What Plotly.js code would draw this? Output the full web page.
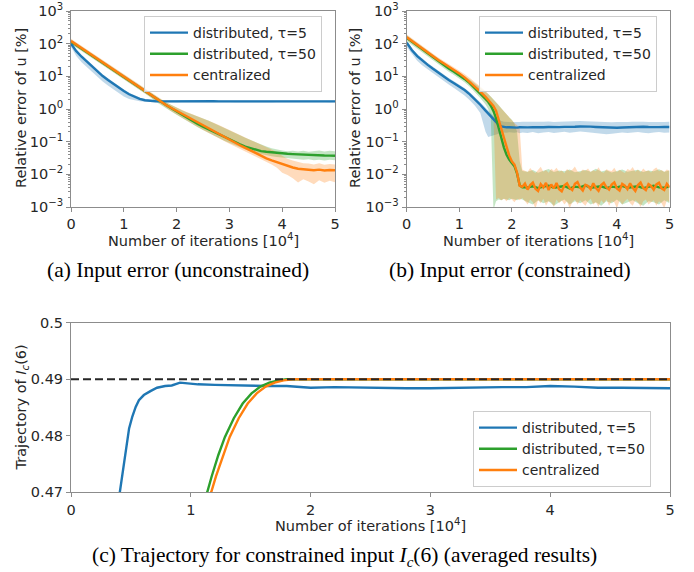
<!DOCTYPE html>
<html><head><meta charset="utf-8">
<script src="https://cdn.plot.ly/plotly-3.0.1.min.js"></script>
<style>html,body{margin:0;padding:0;background:#fff}#chart{width:694px;height:572px}</style>
</head><body><div id="chart"></div>
<script>
// ---------- Panel (a): input error, unconstrained (iterations in 10^4) ----------
const xA = [0,0.1,0.2,0.3,0.4,0.5,0.6,0.7,0.8,0.9,1,1.1,1.2,1.3,1.4,1.5,1.6,1.7,1.8,1.9,2,2.1,2.2,2.3,2.4,2.5,2.6,2.7,2.8,2.9,3,3.1,3.2,3.3,3.4,3.5,3.6,3.7,3.8,3.9,4,4.1,4.2,4.3,4.4,4.5,4.6,4.7,4.8,4.9,5];
const aBlue = [100,58.9,39.8,28.2,20.4,13.8,10.2,7.76,5.89,4.57,3.55,2.82,2.34,2.04,1.86,1.76,1.72,
  1.71,1.72,1.71,1.70,1.71,1.72,1.71,1.71,1.70,1.71,1.72,1.71,1.71,1.72,1.71,1.70,1.71,1.71,1.72,1.71,
  1.71,1.70,1.71,1.72,1.71,1.71,1.72,1.71,1.70,1.71,1.71,1.72,1.71,1.71];
const aBlueLo = [79.4,41.7,26.9,19.1,13.8,9.33,6.92,5.25,3.98,3.09,2.40,2.04,1.86,1.74,1.66,1.64,1.60,
  1.59,1.61,1.60,1.58,1.60,1.61,1.59,1.60,1.58,1.60,1.61,1.59,1.60,1.61,1.59,1.58,1.60,1.60,1.61,1.59,
  1.60,1.58,1.60,1.61,1.59,1.60,1.61,1.59,1.58,1.60,1.60,1.61,1.59,1.60];
const aBlueHi = [120,66.1,44.7,31.6,22.9,15.5,11.5,8.71,6.61,5.13,3.98,3.16,2.63,2.24,2.04,1.91,1.84,
  1.82,1.83,1.82,1.81,1.82,1.84,1.82,1.82,1.81,1.82,1.83,1.82,1.82,1.83,1.82,1.81,1.82,1.82,1.83,1.82,
  1.82,1.81,1.82,1.83,1.82,1.82,1.84,1.82,1.81,1.82,1.82,1.83,1.82,1.82];
const aGreen = [115,89.1,69.2,55.0,42.7,33.1,25.7,20.0,15.5,12.3,9.55,
  7.41,5.75,4.47,3.47,2.75,2.14,1.66,1.32,1.05,0.832,
  0.661,0.525,0.427,0.347,0.288,0.240,0.200,0.166,0.138,0.117,
  0.0977,0.0832,0.0708,0.0631,0.0562,0.0513,0.0490,0.0468,0.0447,0.0437,
  0.0427,0.0417,0.0407,0.0398,0.0392,0.0385,0.0381,0.0376,0.0374,0.0370];
const aGreenLo = [97.7,75.9,58.9,46.8,36.3,28.2,21.9,17.0,13.2,10.5,8.13,
  6.31,4.90,3.80,2.95,2.34,1.70,1.32,1.05,0.832,0.661,
  0.525,0.417,0.339,0.275,0.229,0.186,0.155,0.129,0.107,0.0912,
  0.0776,0.0661,0.0562,0.0501,0.0447,0.0407,0.0380,0.0355,0.0339,0.0324,
  0.0316,0.0302,0.0295,0.0282,0.0288,0.0269,0.0282,0.0263,0.0282,0.0269];
const aGreenHi = [135,105,81.3,64.6,50.1,38.9,30.2,23.4,18.2,14.5,11.2,
  8.71,6.76,5.25,4.07,3.24,2.51,2.00,1.62,1.32,1.10,
  0.912,0.776,0.676,0.603,0.525,0.447,0.372,0.316,0.269,0.229,
  0.191,0.158,0.132,0.112,0.0955,0.0813,0.0708,0.0631,0.0575,0.0537,
  0.0513,0.0525,0.0501,0.0525,0.0490,0.0513,0.0537,0.0501,0.0525,0.0513];
const aOrange = [120,93.3,72.4,56.2,43.7,33.9,26.3,20.4,16.2,12.6,9.77,
  7.59,5.89,4.57,3.55,2.75,2.14,1.66,1.32,1.07,0.871,
  0.708,0.575,0.479,0.389,0.324,0.263,0.214,0.174,0.141,0.117,
  0.0955,0.0776,0.0646,0.0537,0.0437,0.0363,0.0309,0.0269,0.0234,0.0209,
  0.0182,0.0162,0.0148,0.0141,0.0138,0.0134,0.0139,0.0131,0.0136,0.0133];
const aOrangeLo = [100,79.4,61.7,47.9,37.2,28.8,22.4,17.4,13.8,10.7,8.32,
  6.46,5.01,3.89,3.02,2.34,1.78,1.38,1.07,0.851,0.676,
  0.537,0.427,0.347,0.282,0.229,0.186,0.151,0.126,0.105,0.0871,
  0.0724,0.0603,0.0501,0.0427,0.0363,0.0302,0.0245,0.0200,0.0158,0.0112,
  0.00955,0.00759,0.00562,0.00708,0.00603,0.00501,0.00661,0.00550,0.00631,0.00575];
const aOrangeHi = [141,110,85.1,66.1,51.3,39.8,30.9,24.0,19.1,14.8,11.5,
  8.91,6.92,5.37,4.17,3.24,2.51,2.00,1.62,1.32,1.10,
  0.933,0.794,0.692,0.603,0.525,0.447,0.380,0.324,0.269,0.229,
  0.191,0.158,0.132,0.112,0.0955,0.0813,0.0692,0.0589,0.0479,0.0372,
  0.0302,0.0263,0.0234,0.0219,0.0214,0.0200,0.0219,0.0195,0.0209,0.0200];

// ---------- Panel (b): input error, constrained ----------
const xB = [0,0.1,0.2,0.3,0.4,0.5,0.6,0.7,0.8,0.9,1,1.1,1.2,1.3,1.4,1.5,
  1.55,1.6,1.65,1.7,1.75,1.8,1.85,1.9,1.95,2,2.05,2.1,2.15,2.2,
  2.3,2.4,2.5,2.6,2.7,2.8,2.9,3,3.1,3.2,3.3,3.4,3.5,3.6,3.7,3.8,3.9,4,4.1,4.2,4.3,4.4,4.5,4.6,4.7,4.8,4.9,5];
const bBlue = [107,63.1,41.7,29.5,22.4,17.0,12.9,10.0,7.76,6.17,4.90,3.80,2.82,2.00,1.35,0.891,
  0.724,0.575,0.468,0.389,0.331,0.295,0.282,0.275,0.275,0.269,0.275,0.270,0.276,0.271,
  0.274,0.279,0.272,0.276,0.281,0.275,0.278,0.283,0.279,0.285,
  0.290,0.294,0.288,0.282,0.276,0.270,0.262,0.266,0.272,0.278,
  0.275,0.280,0.286,0.281,0.276,0.279,0.284,0.280];
const bBlueLo = [79.4,46.8,30.2,21.4,16.2,12.3,9.33,7.24,5.62,4.37,3.39,2.57,1.86,1.26,0.759,0.200,
  0.138,0.148,0.158,0.166,0.174,0.182,0.191,0.186,0.195,0.191,0.186,0.195,0.182,0.190,
  0.185,0.196,0.180,0.190,0.198,0.184,0.192,0.200,0.188,0.196,
  0.204,0.198,0.190,0.184,0.178,0.170,0.176,0.186,0.192,0.184,
  0.190,0.198,0.188,0.182,0.190,0.196,0.186,0.192];
const bBlueHi = [126,72.4,47.9,33.9,25.7,19.5,14.8,11.5,8.91,7.08,5.62,4.37,3.24,2.34,1.62,1.10,
  0.891,0.741,0.617,0.525,0.468,0.427,0.407,0.398,0.405,0.395,0.402,0.390,0.398,0.405,
  0.400,0.410,0.395,0.405,0.415,0.400,0.408,0.418,0.410,0.420,
  0.428,0.420,0.412,0.402,0.395,0.385,0.392,0.400,0.410,0.402,
  0.408,0.416,0.405,0.398,0.406,0.414,0.402,0.408];
const bGreen = [151,115,87.1,66.1,50.1,37.2,28.8,22.4,17.4,13.8,11.0,8.32,6.17,4.37,3.02,2.04,
  1.66,1.26,0.871,0.525,0.263,0.120,0.0661,0.0398,0.0282,0.0224,0.0178,0.0105,0.0046,0.00398,
  0.0040,0.0043,0.0038,0.0042,0.0045,0.0039,0.0041,0.0044,0.0037,0.0042,
  0.0040,0.0046,0.0039,0.0041,0.0043,0.0038,0.0042,0.0040,0.0044,0.0039,
  0.0041,0.0043,0.0038,0.0042,0.0045,0.0040,0.0039,0.0043];
const bGreenLo = [120,91.2,69.2,52.5,39.8,29.5,22.9,17.8,13.8,11.0,8.71,6.61,4.79,3.31,2.19,1.38,
  1.00,0.562,0.0008,0.0015,0.0017,0.0016,0.0018,0.0017,0.0016,0.0018,0.0017,0.0016,0.0018,0.0017,
  0.0014,0.0012,0.0016,0.0013,0.0015,0.0011,0.0014,0.0017,0.0012,0.0015,
  0.0013,0.0016,0.0012,0.0014,0.0011,0.0015,0.0013,0.0017,0.0012,0.0014,
  0.0016,0.0013,0.0011,0.0015,0.0014,0.0012,0.0016,0.0013];
const bGreenHi = [182,138,105,79.4,60.3,44.7,34.7,26.9,20.9,16.6,13.2,10.2,7.94,6.03,4.57,3.39,
  2.88,2.40,2.00,1.62,1.32,1.05,0.832,0.676,0.562,0.468,0.355,0.200,0.0251,0.0126,
  0.0120,0.0135,0.0112,0.0128,0.0145,0.0118,0.0131,0.0124,0.0140,0.0115,
  0.0127,0.0136,0.0119,0.0148,0.0122,0.0133,0.0114,0.0129,0.0141,0.0121,
  0.0126,0.0138,0.0117,0.0132,0.0125,0.0143,0.0120,0.0130];
const xBf = [0,0.1,0.2,0.3,0.4,0.5,0.6,0.7,0.8,0.9,1,1.1,1.2,1.3,1.4,1.5,
  1.55,1.6,1.65,1.7,1.75,1.8,1.85,1.9,1.95,2,2.05,2.1,2.15,2.2,2.25,2.3,2.35,2.4,2.45,2.5,
  2.55,2.6,2.65,2.7,2.75,2.8,2.85,2.9,2.95,3,3.05,3.1,3.15,3.2,3.25,3.3,3.35,3.4,3.45,3.5,
  3.55,3.6,3.65,3.7,3.75,3.8,3.85,3.9,3.95,4,4.05,4.1,4.15,4.2,4.25,4.3,4.35,4.4,4.45,4.5,
  4.55,4.6,4.65,4.7,4.75,4.8,4.85,4.9,4.95,5];
const bOrange = [158,120,91.2,69.2,52.5,39.8,31.6,25.1,20.0,15.5,12.3,9.33,6.76,4.90,3.39,2.34,
  1.91,1.55,1.23,0.891,0.447,0.224,0.132,0.0708,0.0380,0.0251,0.0200,0.0112,0.00447,0.00417,
  0.0052,0.0034,0.0047,0.0056,0.0036,0.0031,0.0050,0.0040,0.0055,0.0033,
  0.0049,0.0037,0.0054,0.0035,0.0030,0.0046,0.0053,0.0038,0.0033,0.0051,
  0.0058,0.0039,0.0032,0.0048,0.0044,0.0035,0.0053,0.0038,0.0031,0.0047,
  0.0055,0.0040,0.0034,0.0049,0.0057,0.0037,0.0032,0.0051,0.0045,0.0035,
  0.0053,0.0039,0.0031,0.0047,0.0056,0.0038,0.0033,0.0050,0.0044,0.0034,
  0.0049,0.0055,0.0037,0.0033,0.0051,0.0040];
const bOrangeLo = [132,100,75.9,57.5,43.7,33.1,26.3,20.9,16.6,12.9,10.0,7.59,5.50,3.89,2.63,1.74,
  1.38,1.05,0.708,0.0017,0.0019,0.0016,0.0018,0.0015,0.0019,0.0017,0.0014,0.0018,0.0016,0.0019,
  0.0015,0.0012,0.0017,0.0014,0.0009,0.0016,0.0013,0.0018,0.0011,0.0015,
  0.0014,0.0010,0.0017,0.0013,0.0016,0.0012,0.0015,0.0009,0.0014,0.0017,
  0.0012,0.0016,0.0013,0.0011,0.0015,0.0018,0.0012,0.0014,0.0010,0.0016,
  0.0013,0.0017,0.0011,0.0015,0.0014,0.0009,0.0016,0.0012,0.0015,0.0018,
  0.0013,0.0011,0.0016,0.0014,0.0010,0.0015,0.0017,0.0012,0.0014,0.0016,
  0.0011,0.0015,0.0013,0.0009,0.0016,0.0014];
const bOrangeHi = [191,145,110,83.2,63.1,47.9,38.0,30.2,24.0,19.1,15.1,11.7,8.91,6.76,4.90,3.55,
  2.88,2.40,1.95,1.55,1.20,0.977,0.794,0.646,0.525,0.437,0.372,0.316,0.251,0.0141,
  0.0132,0.0118,0.0155,0.0125,0.0110,0.0142,0.0170,0.0121,0.0135,0.0112,
  0.0148,0.0128,0.0160,0.0119,0.0131,0.0108,0.0145,0.0126,0.0138,0.0175,
  0.0122,0.0114,0.0140,0.0129,0.0152,0.0117,0.0134,0.0124,0.0165,0.0120,
  0.0111,0.0143,0.0130,0.0127,0.0158,0.0116,0.0137,0.0123,0.0109,0.0146,
  0.0133,0.0168,0.0121,0.0139,0.0115,0.0150,0.0126,0.0131,0.0113,0.0144,
  0.0162,0.0124,0.0136,0.0118,0.0141,0.0128];

// ---------- Panel (c): trajectory of I_c(6) ----------
const cBlueX = [0.38,0.408,0.425,0.444,0.463,0.485,0.512,0.540,0.567,0.608,0.663,0.718,0.786,0.841,0.910,1.0,1.06,1.2,1.35,1.5,1.65,1.8,2.0,2.2,2.4,2.6,2.8,3.0,3.2,3.4,3.6,3.8,4.0,4.2,4.4,4.6,4.8,5.0];
const cBlue = [0.4660,0.4700,0.4728,0.4757,0.4787,0.4813,0.4834,0.4851,0.4863,0.4872,0.4879,0.4885,0.4888,0.4889,0.4894,0.4892,0.4891,0.4890,0.4889,0.4889,0.4888,0.4888,0.4885,0.4886,0.4885,0.4885,0.4884,0.4884,0.4885,0.4885,0.4886,0.4886,0.4888,0.4887,0.4885,0.4885,0.4884,0.4884];
const cGreenX = [1.10,1.137,1.174,1.23,1.285,1.359,1.433,1.507,1.581,1.656,1.73,1.80,1.9,2.0,3.0,4.0,5.0];
const cGreen = [0.4680,0.4700,0.4728,0.4766,0.4798,0.4831,0.4857,0.4875,0.4887,0.4894,0.4898,0.4900,0.4900,0.4900,0.4900,0.4900,0.4900];
const cOrangeX = [1.13,1.17,1.21,1.27,1.325,1.40,1.475,1.55,1.625,1.70,1.775,1.85,1.95,2.0,3.0,4.0,5.0];
const cOrange = [0.4680,0.4700,0.4728,0.4766,0.4798,0.4831,0.4857,0.4875,0.4887,0.4894,0.4898,0.4900,0.4900,0.4900,0.4900,0.4900,0.4900];
const cTargetX = [0, 5];
const cTarget = [0.49, 0.49];

const names = ['distributed, τ=5', 'distributed, τ=50', 'centralized'];
const xTicks = [0,1,2,3,4,5];
const logTickVals = [0.001,0.01,0.1,1,10,100,1000];
const logTickText = ['10<sup>−3</sup>','10<sup>−2</sup>','10<sup>−1</sup>','10<sup>0</sup>','10<sup>1</sup>','10<sup>2</sup>','10<sup>3</sup>'];
const cTickVals = [0.47,0.48,0.49,0.5];
const cTickText = ['0.47','0.48','0.49','0.5'];

// ---------- styling ----------
const COL = {blue:'#1f77b4', green:'#2ca02c', orange:'#ff7f0e'};
const FIL = {blue:'rgba(31,119,180,0.28)', green:'rgba(44,160,44,0.28)', orange:'rgba(255,127,14,0.28)'};
const LW = 2.4;
const FONT = 'DejaVu Sans';
const TXT = '#262626';
const GRAY = '#8c8c8c';

function band(x, lo, hi, fill, xa, ya) {
  return [
    {x:x, y:lo, xaxis:xa, yaxis:ya, type:'scatter', mode:'lines', line:{width:0, color:fill}, showlegend:false, hoverinfo:'skip'},
    {x:x, y:hi, xaxis:xa, yaxis:ya, type:'scatter', mode:'lines', line:{width:0, color:fill}, fill:'tonexty', fillcolor:fill, showlegend:false, hoverinfo:'skip'}
  ];
}
function ln(x, y, color, name, xa, ya, lg) {
  return {x:x, y:y, xaxis:xa, yaxis:ya, type:'scatter', mode:'lines', name:name, legend:lg,
          line:{color:color, width:LW}, showlegend:true};
}

const data = [].concat(
  band(xA, aBlueLo, aBlueHi, FIL.blue, 'x', 'y'),
  band(xA, aGreenLo, aGreenHi, FIL.green, 'x', 'y'),
  band(xA, aOrangeLo, aOrangeHi, FIL.orange, 'x', 'y'),
  [ln(xA, aBlue, COL.blue, names[0], 'x', 'y', 'legend'),
   ln(xA, aGreen, COL.green, names[1], 'x', 'y', 'legend'),
   ln(xA, aOrange, COL.orange, names[2], 'x', 'y', 'legend')],
  band(xB, bBlueLo, bBlueHi, FIL.blue, 'x2', 'y2'),
  band(xB, bGreenLo, bGreenHi, FIL.green, 'x2', 'y2'),
  band(xBf, bOrangeLo, bOrangeHi, FIL.orange, 'x2', 'y2'),
  [ln(xB, bBlue, COL.blue, names[0], 'x2', 'y2', 'legend2'),
   ln(xB, bGreen, COL.green, names[1], 'x2', 'y2', 'legend2'),
   ln(xBf, bOrange, COL.orange, names[2], 'x2', 'y2', 'legend2')],
  [ln(cBlueX, cBlue, COL.blue, names[0], 'x3', 'y3', 'legend3'),
   ln(cGreenX, cGreen, COL.green, names[1], 'x3', 'y3', 'legend3'),
   ln(cOrangeX, cOrange, COL.orange, names[2], 'x3', 'y3', 'legend3'),
   {x:cTargetX, y:cTarget, xaxis:'x3', yaxis:'y3', type:'scatter', mode:'lines',
    line:{color:'#262626', width:2.2, dash:'8px,4px'}, showlegend:false, hoverinfo:'skip'}]
);

function axis(extra) {
  const base = {showline:true, mirror:true, linecolor:GRAY, linewidth:1, ticks:'outside', ticklen:4,
    tickcolor:GRAY, tickwidth:1, showgrid:false, zeroline:false,
    tickfont:{family:FONT, size:14.5, color:TXT}};
  return Object.assign(base, extra);
}
const minorLog = {ticks:'outside', ticklen:2, tickcolor:GRAY, dtick:'D1', showgrid:false};

const topY = [1 - 207/572, 1 - 11/572];
const legendBase = {xanchor:'left', yanchor:'top', bgcolor:'rgba(255,255,255,0.8)', bordercolor:'#cccccc',
  borderwidth:1, font:{family:FONT, size:14, color:TXT}, itemwidth:38, tracegroupgap:0, traceorder:'normal'};

function axTitle(text, xpx, ypx, angle) {
  return {text:text, x:xpx/694, y:1 - ypx/572, xref:'paper', yref:'paper', showarrow:false, textangle:angle,
    xanchor:'center', yanchor:'middle', borderpad:0, font:{family:FONT, size:14.5, color:TXT}};
}
function caption(text, xpx, ypx) {
  return {text:text, x:xpx/694, y:1 - ypx/572, xref:'paper', yref:'paper', showarrow:false,
    xanchor:'center', yanchor:'middle', borderpad:0, font:{family:'Liberation Serif', size:21.5, color:'#000'}};
}
const xTitleText = 'Number of iterations [10<sup>4</sup>]';

const layout = {
  width:694, height:572, margin:{l:0, r:0, t:0, b:0},
  paper_bgcolor:'#ffffff', plot_bgcolor:'#ffffff',
  xaxis: axis({domain:[71/694, 335/694], range:[0,5], anchor:'y', tickvals:xTicks, ticktext:xTicks.map(String)}),
  yaxis: axis({type:'log', domain:topY, range:[-3,3], anchor:'x', tickvals:logTickVals, ticktext:logTickText, minor:minorLog}),
  xaxis2: axis({domain:[406.7/694, 669.5/694], range:[0,5], anchor:'y2', tickvals:xTicks, ticktext:xTicks.map(String)}),
  yaxis2: axis({type:'log', domain:topY, range:[-3,3], anchor:'x2', tickvals:logTickVals, ticktext:logTickText, minor:minorLog}),
  xaxis3: axis({domain:[71/694, 670/694], range:[0,5], anchor:'y3', tickvals:xTicks, ticktext:xTicks.map(String)}),
  yaxis3: axis({domain:[1 - 492.3/572, 1 - 322.7/572], range:[0.47,0.5], anchor:'x3', tickvals:cTickVals, ticktext:cTickText}),
  legend: Object.assign({x:144/694, y:1 - 16/572}, legendBase),
  legend2: Object.assign({x:479/694, y:1 - 16/572}, legendBase),
  legend3: Object.assign({x:473/694, y:1 - 411/572}, legendBase),
  annotations: [
    axTitle('Relative error of u [%]', 21, 108, -90),
    axTitle('Relative error of u [%]', 355, 108, -90),
    axTitle('Trajectory of <i>I<sub>c</sub></i>(6)', 21, 407.5, -90),
    axTitle(xTitleText, 203, 239.5, 0),
    axTitle(xTitleText, 538, 239.5, 0),
    axTitle(xTitleText, 370.5, 525, 0),
    caption('(a) Input error (unconstrained)', 178, 270),
    caption('(b) Input error (constrained)', 510, 270),
    caption('(c) Trajectory for constrained input <i>I<sub>c</sub></i>(6) (averaged results)', 344, 556.5)
  ]
};

Plotly.newPlot('chart', data, layout, {displayModeBar:false, staticPlot:true});
</script>
</body></html>
